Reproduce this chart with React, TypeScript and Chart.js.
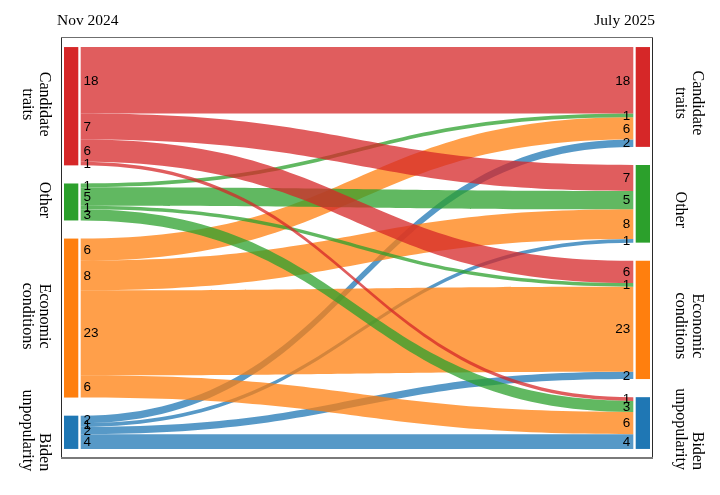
import React, { useEffect, useRef } from "react";
import { Chart, registerables } from "chart.js";

Chart.register(...registerables);

// ---- data ----
const PERIODS = ["Nov 2024", "July 2025"];
const CATEGORIES = ["Candidate traits", "Other", "Economic conditions", "Biden unpopularity"];
// flows: each array = one Nov 2024 category, values go to July 2025 categories (same order as CATEGORIES)
const FROM_CANDIDATE_TRAITS = [18, 7, 6, 1];
const FROM_OTHER = [1, 5, 1, 3];
const FROM_ECONOMIC_CONDITIONS = [6, 8, 23, 6];
const FROM_BIDEN_UNPOPULARITY = [2, 1, 2, 4];
const FLOWS = [FROM_CANDIDATE_TRAITS, FROM_OTHER, FROM_ECONOMIC_CONDITIONS, FROM_BIDEN_UNPOPULARITY];

// ---- style ----
const NODE_COLORS = ["#d62728", "#2ca02c", "#ff7f0e", "#1f77b4"];
const LINK_COLORS = [
  "rgba(214,39,40,0.75)",
  "rgba(44,160,44,0.75)",
  "rgba(255,127,14,0.75)",
  "rgba(31,119,180,0.75)",
];
const LABEL_ALIGN = ["center", "center", "center", "right"];
const NODE_GAP = 4.9; // value units between nodes
const PAD = 2.45; // value units above/below
const NODE_W = 14.3;
const LINK_GAP = 2.4;
const SERIF = '"Liberation Serif", "Times New Roman", serif';
const SANS = '"Liberation Sans", Arial, Helvetica, sans-serif';

const leftTotals = FLOWS.map((r) => r.reduce((a, b) => a + b, 0));
const rightTotals = CATEGORIES.map((_, j) => FLOWS.reduce((a, r) => a + r[j], 0));
const GRAND = leftTotals.reduce((a, b) => a + b, 0);

function starts(totals: number[]) {
  const s: number[] = [];
  let acc = 0;
  totals.forEach((t) => {
    s.push(acc);
    acc += t + NODE_GAP;
  });
  return s;
}

const sankeyPlugin = {
  id: "sankeyDraw",
  afterDatasetsDraw(chart: any) {
    const { ctx, chartArea } = chart;
    const xs = chart.scales.x;
    const ys = chart.scales.y;
    const Y = (v: number) => ys.getPixelForValue(v);
    const xL = xs.getPixelForValue(0);
    const xR = xs.getPixelForValue(1);
    const fx0 = xL + NODE_W + LINK_GAP;
    const fx1 = xR - NODE_W - LINK_GAP;
    const xm = (fx0 + fx1) / 2;

    const ls = starts(leftTotals);
    const rs = starts(rightTotals);

    ctx.save();
    // frame
    ctx.lineWidth = 1;
    ctx.strokeStyle = "#2a2a2a";
    ctx.beginPath();
    ctx.moveTo(chartArea.left - 0.5, chartArea.bottom);
    ctx.lineTo(chartArea.left - 0.5, chartArea.top - 0.5);
    ctx.stroke();
    ctx.beginPath();
    ctx.moveTo(chartArea.right + 0.5, chartArea.top - 0.5);
    ctx.lineTo(chartArea.right + 0.5, chartArea.bottom);
    ctx.stroke();
    ctx.strokeStyle = "#6f6f6f";
    ctx.beginPath();
    ctx.moveTo(chartArea.left - 1, chartArea.top - 0.5);
    ctx.lineTo(chartArea.right + 1, chartArea.top - 0.5);
    ctx.stroke();
    ctx.lineWidth = 2;
    ctx.strokeStyle = "#7a7a7a";
    ctx.beginPath();
    ctx.moveTo(chartArea.left - 1, chartArea.bottom);
    ctx.lineTo(chartArea.right + 1, chartArea.bottom);
    ctx.stroke();

    // nodes
    CATEGORIES.forEach((_, i) => {
      ctx.fillStyle = NODE_COLORS[i];
      const a = Y(ls[i]);
      const b = Y(ls[i] + leftTotals[i]);
      ctx.fillRect(xL, a, NODE_W, b - a);
      const c = Y(rs[i]);
      const d = Y(rs[i] + rightTotals[i]);
      ctx.fillRect(xR - NODE_W, c, NODE_W, d - c);
    });

    // link geometry
    const lOff = ls.slice();
    const rOff = rs.slice();
    const links: { i: number; y0a: number; y0b: number; y1a: number; y1b: number; v: number }[] = [];
    FLOWS.forEach((row, i) => {
      row.forEach((v, j) => {
        if (!v) return;
        links.push({
          i,
          v,
          y0a: Y(lOff[i]),
          y0b: Y(lOff[i] + v),
          y1a: Y(rOff[j]),
          y1b: Y(rOff[j] + v),
        });
        lOff[i] += v;
        rOff[j] += v;
      });
    });

    // draw links: last source first so earlier sources sit on top
    links
      .slice()
      .reverse()
      .forEach((l) => {
        ctx.fillStyle = LINK_COLORS[l.i];
        ctx.beginPath();
        ctx.moveTo(fx0, l.y0a);
        ctx.bezierCurveTo(xm, l.y0a, xm, l.y1a, fx1, l.y1a);
        ctx.lineTo(fx1, l.y1b);
        ctx.bezierCurveTo(xm, l.y1b, xm, l.y0b, fx0, l.y0b);
        ctx.closePath();
        ctx.fill();
      });

    // link value labels
    ctx.fillStyle = "#000";
    ctx.font = `13.5px ${SANS}`;
    ctx.textBaseline = "middle";
    links.forEach((l) => {
      ctx.textAlign = "left";
      ctx.fillText(String(l.v), fx0 + 2.8, (l.y0a + l.y0b) / 2 + 0.5);
      ctx.textAlign = "right";
      ctx.fillText(String(l.v), fx1 - 3, (l.y1a + l.y1b) / 2 + 0.5);
    });

    // node labels (rotated)
    ctx.font = `16px ${SERIF}`;
    ctx.textBaseline = "alphabetic";
    const drawLabel = (i: number, side: "left" | "right", cy: number) => {
      const lines = CATEGORIES[i].split(" ");
      const n = lines.length;
      const maxW = Math.max(...lines.map((t) => ctx.measureText(t).width));
      lines.forEach((t, k) => {
        const bx =
          side === "left"
            ? chartArea.left - 22 - 17.5 * k
            : chartArea.right + 23.5 + 17.5 * (n - 1 - k);
        ctx.save();
        const align = LABEL_ALIGN[i];
        const anchorY = align === "right" ? cy + maxW / 2 : cy;
        ctx.translate(bx, anchorY);
        ctx.rotate(Math.PI / 2);
        ctx.textAlign = align as CanvasTextAlign;
        ctx.fillText(t, 0, 0);
        ctx.restore();
      });
    };
    CATEGORIES.forEach((_, i) => {
      const lc = (Y(ls[i]) + Y(ls[i] + leftTotals[i])) / 2;
      const rc = (Y(rs[i]) + Y(rs[i] + rightTotals[i])) / 2;
      drawLabel(i, "left", lc - 2);
      drawLabel(i, "right", rc + 6);
    });

    // period headers
    ctx.font = `15.5px ${SERIF}`;
    ctx.textAlign = "left";
    ctx.fillText(PERIODS[0], chartArea.left - 5, 24.5);
    ctx.textAlign = "right";
    ctx.fillText(PERIODS[1], chartArea.right + 3, 24.5);
    ctx.restore();
  },
};

export default function App() {
  const ref = useRef<HTMLCanvasElement | null>(null);
  useEffect(() => {
    if (!ref.current) return;
    const chart = new Chart(ref.current, {
      type: "scatter",
      data: { datasets: [] },
      options: {
        animation: false,
        responsive: true,
        maintainAspectRatio: false,
        layout: { padding: { left: 62, right: 68, top: 38, bottom: 37 } },
        plugins: { legend: { display: false }, tooltip: { enabled: false }, title: { display: false } },
        scales: {
          x: { type: "linear", display: false, min: -2 / 586, max: 1 + 2 / 586 },
          y: {
            type: "linear",
            display: false,
            reverse: true,
            min: -PAD,
            max: GRAND + NODE_GAP * (CATEGORIES.length - 1) + PAD,
          },
        },
      },
      plugins: [sankeyPlugin],
    });
    return () => chart.destroy();
  }, []);
  return (
    <div style={{ position: "fixed", left: 0, top: 0, width: 720, height: 495, background: "#fff" }}>
      <canvas ref={ref} />
    </div>
  );
}
